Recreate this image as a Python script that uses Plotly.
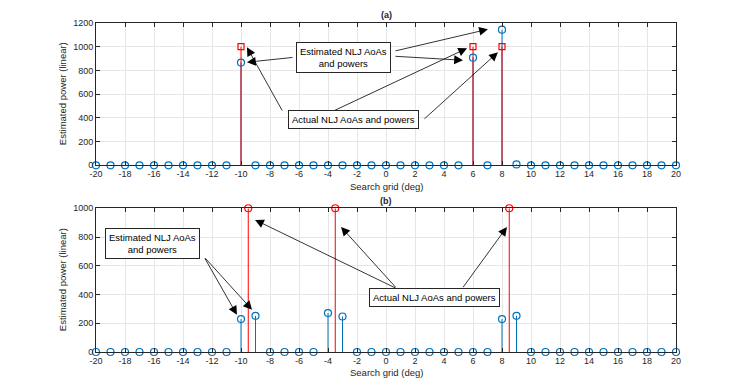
import plotly.graph_objects as go

# search grid and estimated powers
grid = list(range(-20, 21))
est_a = {-10: 866, 6: 908, 8: 1144, 9: 8}
est_b = {-10: 229, -9: 252, -4: 271, -3: 247, 8: 229, 9: 252}
power_a = [est_a.get(g, 0) for g in grid]
power_b = [est_b.get(g, 0) for g in grid]

# actual NLJ AoAs
actual_a_x = [-10, 6, 8]
actual_a_y = [1000, 1000, 1000]
actual_b_x = [-9.5, -3.5, 8.5]
actual_b_y = [1000, 1000, 1000]

xticks = list(range(-20, 21, 2))
xtick_text = [str(t) for t in xticks]

blue = "#0072BD"
red = "#FF0000"
font = "Liberation Sans, Arial, sans-serif"


def stems(xs, ys):
    sx, sy = [], []
    for x, y in zip(xs, ys):
        sx += [x, x, None]
        sy += [0, y, None]
    return sx, sy


fig = go.Figure()

for xa, ya, xs, ys, rx, ry, sym in [
    ("x", "y", grid, power_a, actual_a_x, actual_a_y, "square-open"),
    ("x2", "y2", grid, power_b, actual_b_x, actual_b_y, "circle-open"),
]:
    sx, sy = stems(xs, ys)
    fig.add_trace(go.Scatter(x=sx, y=sy, mode="lines", line=dict(color=blue, width=1),
                             xaxis=xa, yaxis=ya, hoverinfo="skip"))
    sx, sy = stems(rx, ry)
    fig.add_trace(go.Scatter(x=sx, y=sy, mode="lines", line=dict(color=red, width=1),
                             xaxis=xa, yaxis=ya, hoverinfo="skip"))
    fig.add_trace(go.Scatter(x=xs, y=ys, mode="markers", cliponaxis=False,
                             marker=dict(symbol="circle-open", size=7, color=blue,
                                         line=dict(width=1.2, color=blue)),
                             xaxis=xa, yaxis=ya))
    fig.add_trace(go.Scatter(x=rx, y=ry, mode="markers", cliponaxis=False,
                             marker=dict(symbol=sym, size=6 if sym.startswith("sq") else 7,
                                         color=red, line=dict(width=1.2, color=red)),
                             xaxis=xa, yaxis=ya))

# the page puts the figure 8px in from the corner
OFF = 8
W, H = 747 - OFF, 384 - OFF
L, R, T, B = 96 - OFF, 676 - OFF, 22.7 - OFF, 352.3 - OFF
PW, PH = R - L, B - T


def px(x):
    return (x - OFF - L) / PW


def py(y):
    return (B - (y - OFF)) / PH


axis_common = dict(
    showgrid=True, gridcolor="#e6e6e6", gridwidth=1,
    showline=True, linecolor="#262626", linewidth=1, mirror="ticks",
    ticks="inside", ticklen=4, tickcolor="#262626",
    tickfont=dict(family=font, size=9, color="#262626"),
    zeroline=False, automargin=False,
)
xaxis_common = dict(range=[-20, 20], tickvals=xticks, ticktext=xtick_text, **axis_common)

fig.update_layout(
    width=W, height=H,
    margin=dict(l=L, r=W - R, t=T, b=H - B, pad=0),
    paper_bgcolor="white", plot_bgcolor="white",
    showlegend=False,
    xaxis=dict(domain=[0, 1], anchor="y", **xaxis_common),
    yaxis=dict(domain=[py(165.3), 1], range=[0, 1200], dtick=200, anchor="x", **axis_common),
    xaxis2=dict(domain=[0, 1], anchor="y2", **xaxis_common),
    yaxis2=dict(domain=[0, py(208.3)], range=[0, 1000], dtick=200, anchor="x2", **axis_common),
)

# arrows: (axis, tail x, tail y, head x, head y)
arrows = [
    ("", -6.34, 911, -9.59, 869),
    ("", 0.55, 962, 7.03, 1147),
    ("", 0.55, 920, 5.31, 886),
    ("", -7.1, 449, -9.59, 996),
    ("", -3.79, 449, 5.59, 987),
    ("", 2.55, 381, 7.72, 953),
    ("2", -12.55, 662, -10.28, 259),
    ("2", -12.55, 662, -9.24, 294),
    ("2", 0.76, 440, -9.03, 919),
    ("2", 0.76, 440, -3.10, 870),
    ("2", 5.24, 440, 8.34, 870),
]
for ax_id, tx, ty, hx, hy in arrows:
    fig.add_annotation(x=hx, y=hy, ax=tx, ay=ty, xref="x" + ax_id, yref="y" + ax_id,
                       axref="x" + ax_id, ayref="y" + ax_id, text="", showarrow=True,
                       arrowhead=2, arrowsize=2.2, arrowwidth=0.8, arrowcolor="black",
                       standoff=0, startstandoff=0)

# text boxes: (axis, x, y, text)
boxes = [
    ("", -2.9, 911, "Estimated NLJ AoAs<br>and powers"),
    ("", -2.21, 385, "Actual NLJ AoAs and powers"),
    ("2", -16.07, 755, "Estimated NLJ AoAs<br>and powers"),
    ("2", 3.34, 380, "Actual NLJ AoAs and powers"),
]
for ax_id, bx, by, txt in boxes:
    fig.add_annotation(x=bx, y=by, xref="x" + ax_id, yref="y" + ax_id, text=txt,
                       showarrow=False, bgcolor="white", bordercolor="#262626",
                       borderwidth=1, borderpad=3,
                       font=dict(family=font, size=9.5, color="black"))

# titles and axis labels
for txt, y_px, bold in [("(a)", 15, True), ("(b)", 201, True),
                        ("Search grid (deg)", 186, False), ("Search grid (deg)", 373, False)]:
    fig.add_annotation(x=px(386), y=py(y_px), xref="paper", yref="paper",
                       xanchor="center", yanchor="middle",
                       text=f"<b>{txt}</b>" if bold else txt, showarrow=False,
                       font=dict(family=font, size=9 if bold else 9.5, color="#262626"))
for y_px in [(22.7 + 165.3) / 2, (208.3 + 352.3) / 2]:
    fig.add_annotation(x=px(62), y=py(y_px), xref="paper", yref="paper",
                       xanchor="center", yanchor="middle",
                       text="Estimated power (linear)", textangle=-90, showarrow=False,
                       font=dict(family=font, size=9.5, color="#262626"))

fig.write_html("out.html")
